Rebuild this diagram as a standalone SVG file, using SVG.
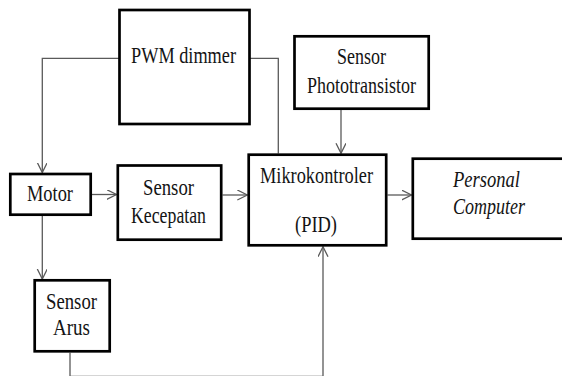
<svg xmlns="http://www.w3.org/2000/svg" width="562" height="376" viewBox="0 0 562 376">
<defs>
<style>
.box{fill:#fff;stroke:#000;stroke-width:2.7}
.lbl{font-family:"Liberation Serif","Times New Roman",serif;font-size:24px;fill:#141414}
.it{font-style:italic}
.con{fill:none;stroke:#5a5a5a;stroke-width:1.3}
</style>
<marker id="arr" markerUnits="userSpaceOnUse" markerWidth="14" markerHeight="14" refX="10" refY="5" orient="auto">
<path d="M0,0 L10,5 L0,10" fill="none" stroke="#5a5a5a" stroke-width="1.3"/>
</marker>
</defs>
<rect width="562" height="376" fill="#fff"/>
<g id="connectors">
<path class="con" d="M119.5,58.3 H42.3 V172.5" marker-end="url(#arr)"/>
<path class="con" d="M249.5,58.3 H278.3 V153.5"/>
<path class="con" d="M92,194.5 H116.5" marker-end="url(#arr)"/>
<path class="con" d="M222.5,195 H247.3" marker-end="url(#arr)"/>
<path class="con" d="M341,110 V153.3" marker-end="url(#arr)"/>
<path class="con" d="M387.5,195 H411.5" marker-end="url(#arr)"/>
<path class="con" d="M42.3,216 V279" marker-end="url(#arr)"/>
<path class="con" d="M70,352.7 V376.3 H323 V246.7" marker-end="url(#arr)"/>
</g>
<g id="pwm">
<rect class="box" x="119.5" y="10" width="130" height="114"/>
<text class="lbl" x="131" y="63" textLength="105" lengthAdjust="spacingAndGlyphs">PWM dimmer</text>
</g>
<g id="phototransistor">
<rect class="box" x="294.5" y="36.3" width="134.2" height="72.4"/>
<text class="lbl" x="337" y="64" textLength="49" lengthAdjust="spacingAndGlyphs">Sensor</text>
<text class="lbl" x="307" y="93" textLength="109" lengthAdjust="spacingAndGlyphs">Phototransistor</text>
</g>
<g id="motor">
<rect class="box" x="10.3" y="174" width="80.4" height="40.7"/>
<text class="lbl" x="27" y="201" textLength="46" lengthAdjust="spacingAndGlyphs">Motor</text>
</g>
<g id="sensor-kecepatan">
<rect class="box" x="117.8" y="165.5" width="103.4" height="74.2"/>
<text class="lbl" x="143" y="195" textLength="51" lengthAdjust="spacingAndGlyphs">Sensor</text>
<text class="lbl" x="131" y="222.5" textLength="75" lengthAdjust="spacingAndGlyphs">Kecepatan</text>
</g>
<g id="mikrokontroler">
<rect class="box" x="248.7" y="154.7" width="137.5" height="90.6"/>
<text class="lbl" x="260" y="183" textLength="113" lengthAdjust="spacingAndGlyphs">Mikrokontroler</text>
<text class="lbl" x="295" y="232" textLength="42" lengthAdjust="spacingAndGlyphs">(PID)</text>
</g>
<g id="personal-computer">
<rect class="box" x="412.8" y="158.7" width="160" height="80"/>
<text class="lbl it" x="453" y="187" textLength="67" lengthAdjust="spacingAndGlyphs">Personal</text>
<text class="lbl it" x="453" y="214" textLength="72" lengthAdjust="spacingAndGlyphs">Computer</text>
</g>
<g id="sensor-arus">
<rect class="box" x="34.7" y="280.3" width="75" height="71"/>
<text class="lbl" x="46" y="309" textLength="51" lengthAdjust="spacingAndGlyphs">Sensor</text>
<text class="lbl" x="53" y="335" textLength="37" lengthAdjust="spacingAndGlyphs">Arus</text>
</g>
</svg>
